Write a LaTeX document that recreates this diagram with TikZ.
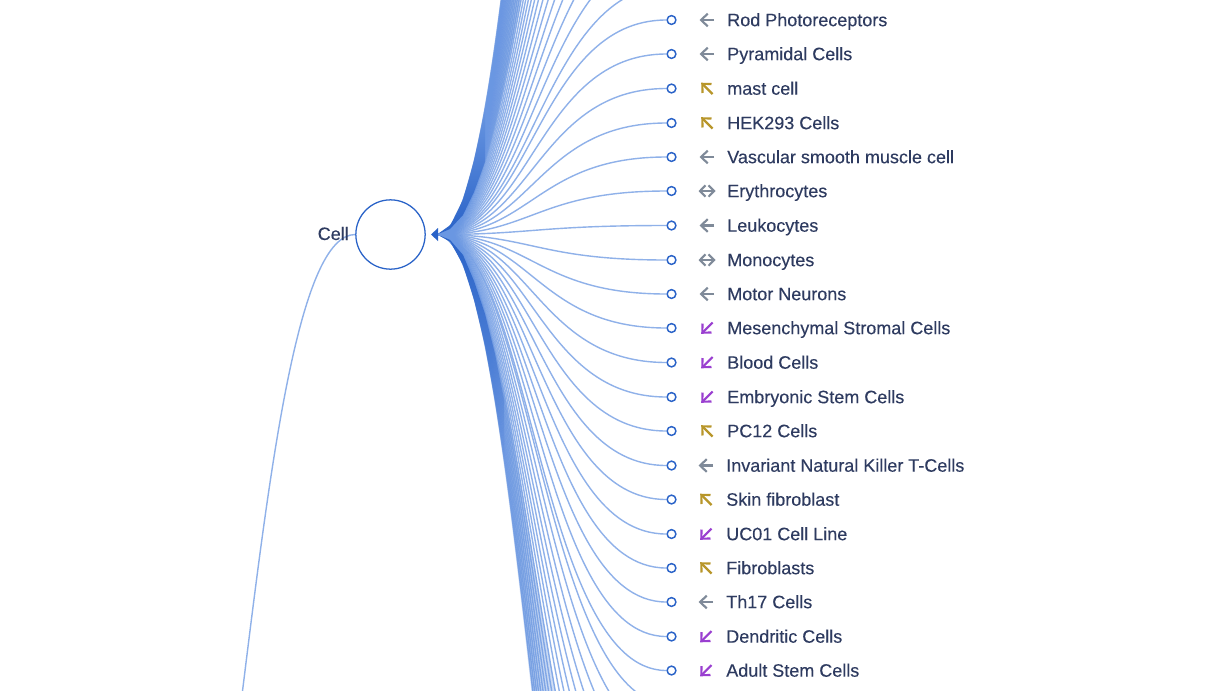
\documentclass[tikz,border=0pt]{standalone}
\usepackage{fontspec}
\setmainfont[FakeBold=0.2]{Liberation Sans}
\newfontfamily\labelfont[AutoFakeBold=0.2]{Liberation Sans}
\usetikzlibrary{arrows.meta,fadings}
\definecolor{linkc}{HTML}{6A97E2}
\definecolor{nodec}{HTML}{2A63C8}
\definecolor{textc}{HTML}{2E3B60}
\definecolor{greyc}{HTML}{7F8A99}
\definecolor{goldc}{HTML}{B8962A}
\definecolor{purpc}{HTML}{9A3FD0}
\tikzset{
  x=0.75pt,y=-0.75pt,
  linkline/.style={draw=linkc,line width=1.05pt,draw opacity=0.75},
  bundleline/.style={draw=linkc,line width=1.05pt,draw opacity=0.26},
  densecore/.style={fill=nodec,draw=none},
  leaf/.style={circle,draw=nodec,fill=white,line width=1.1pt,minimum size=6.6pt,inner sep=0pt},
  rowlabel/.style={anchor=base west,text=textc,font=\labelfont\bfseries\fontsize{13.5}{16}\selectfont,inner sep=0pt},
  ico/.style={line width=1.6pt},
  tip/.style={-{Straight Barb[length=5pt,width=9.5pt,line width=1.6pt]}},
  bothtip/.style={{Straight Barb[length=4.2pt,width=8.5pt,line width=1.5pt]}-{Straight Barb[length=4.2pt,width=8.5pt,line width=1.5pt]}},
  icoleft/.pic={\draw[ico,tip,draw=greyc] (7,0) -- (-7.5,0);},
  icoboth/.pic={\draw[ico,bothtip,draw=greyc] (8.5,0) -- (-8.5,0);},
  icoup/.pic={\draw[ico,tip,draw=goldc] (5.5,5.5) -- (-5.8,-5.8);},
  icodown/.pic={\draw[ico,tip,draw=purpc] (5.5,-5.5) -- (-5.8,5.8);}
}
\newcommand{\leafrow}[5]{%
  \node[leaf] (#1) at (671.5,#2) {};
  \draw[linkline] (hub) .. controls +(94,0) and +(-129,0) .. (#1.west);
  \pic at (#3-20,#2) {#4};
  \node[rowlabel] (#1t) at (#3,#2+6.2) {#5};
}
\begin{document}
\begin{tikzpicture}
\path[use as bounding box,fill=white] (0,0) rectangle (1230,690);
\clip (0,0) rectangle (1230,690);
\coordinate (hub) at (437,234.5);
\coordinate (parent) at (130,1146);
\foreach \i in {1,...,29}{
  \pgfmathsetmacro{\yy}{20-34.25*\i}
  \coordinate (up\i) at (671,\yy);
  \draw[linkline] (hub) .. controls +(94,0) and +(-129,0) .. (up\i);
}
\foreach \i in {1,...,18}{
  \pgfmathsetmacro{\yy}{670.5+34.25*\i}
  \coordinate (dn\i) at (671,\yy);
  \draw[linkline] (hub) .. controls +(94,0) and +(-129,0) .. (dn\i);
}
\foreach \i in {1,...,46}{
  \pgfmathsetmacro{\yy}{-458-11.4*\i}
  \coordinate (ua\i) at (671,\yy);
  \draw[bundleline] (hub) .. controls +(94,0) and +(-129,0) .. (ua\i);
}
\foreach \i in {1,...,29}{
  \pgfmathsetmacro{\yy}{971+11.4*\i}
  \coordinate (da\i) at (671,\yy);
  \draw[bundleline] (hub) .. controls +(94,0) and +(-129,0) .. (da\i);
}
\fill[densecore,path fading=north] (437,234.5) -- (450.4,225) -- (462.8,200) -- (474,160) -- (485,107) -- (485,162) -- (474,192) -- (463,215) -- (450,229) -- cycle;
\fill[densecore,path fading=south] (437,234.5) -- (450.4,242) -- (462.8,264.5) -- (474,300) -- (485,346) -- (495,402) -- (504.4,466) -- (504,400) -- (495,354) -- (485,314) -- (474,281) -- (463,255) -- (450,240) -- cycle;
\leafrow{a}{20}{727}{icoleft}{Rod Photoreceptors}
\leafrow{b}{54}{727}{icoleft}{Pyramidal Cells}
\leafrow{c}{88.5}{727}{icoup}{mast cell}
\leafrow{d}{123}{727}{icoup}{HEK293 Cells}
\leafrow{e}{157}{727}{icoleft}{Vascular smooth muscle cell}
\leafrow{f}{191}{727}{icoboth}{Erythrocytes}
\leafrow{g}{225.5}{727}{icoleft}{Leukocytes}
\leafrow{h}{260}{727}{icoboth}{Monocytes}
\leafrow{i}{294}{727}{icoleft}{Motor Neurons}
\leafrow{j}{328}{727}{icodown}{Mesenchymal Stromal Cells}
\leafrow{k}{362.5}{727}{icodown}{Blood Cells}
\leafrow{l}{397}{727}{icodown}{Embryonic Stem Cells}
\leafrow{m}{431}{727}{icoup}{PC12 Cells}
\leafrow{n}{465.5}{726}{icoleft}{Invariant Natural Killer T-Cells}
\leafrow{o}{499.5}{726}{icoup}{Skin fibroblast}
\leafrow{p}{534}{726}{icodown}{UC01 Cell Line}
\leafrow{q}{568}{726}{icoup}{Fibroblasts}
\leafrow{r}{602}{726}{icoleft}{Th17 Cells}
\leafrow{s}{636.5}{726}{icodown}{Dendritic Cells}
\leafrow{u}{670.5}{726}{icodown}{Adult Stem Cells}
\node[circle,draw=nodec,fill=white,line width=0.95pt,minimum size=52pt,inner sep=0pt] (cell) at (390.5,234.5) {};
\draw[linkline] (cell.west) .. controls +(-112.5,0) and +(112.5,0) .. (parent);
\node[anchor=base east,text=textc,font=\labelfont\bfseries\fontsize{13.5}{16}\selectfont,inner sep=0pt] (celltxt) at (349,240) {Cell};
\fill[nodec] (431,234.5) -- (438,228) -- (438,241) -- cycle;
\end{tikzpicture}
\end{document}
